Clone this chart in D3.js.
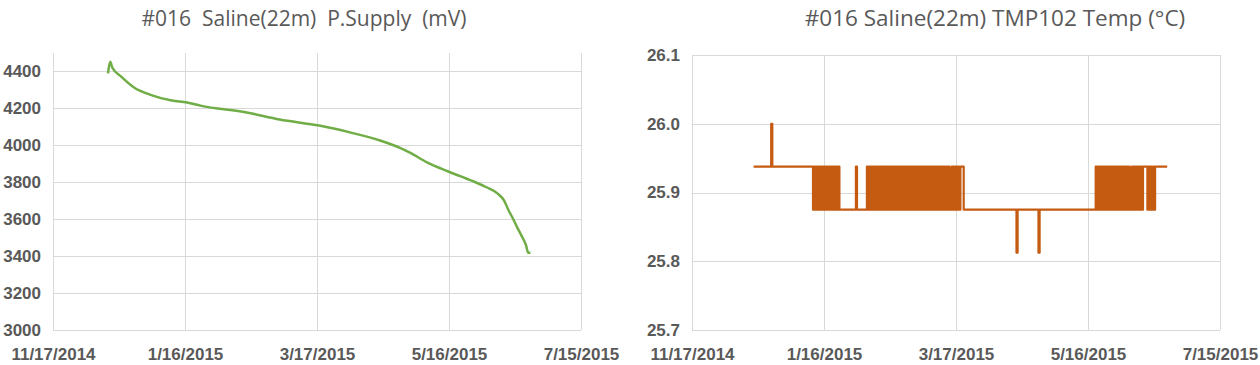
<!DOCTYPE html>
<html>
<head>
<meta charset="utf-8">
<script src="https://cdn.jsdelivr.net/npm/d3@7"></script>
<style>
  body { margin: 0; background: #fff; }
  svg { display: block; }
  .grid line, .grid path { stroke: #d9d9d9; stroke-width: 1; shape-rendering: crispEdges; }
  .tick text { fill: #595959; font-family: "Liberation Sans", Arial, sans-serif; font-weight: bold; font-size: 17px; }
  .title { fill: #595959; font-family: "Open Sans", "Liberation Sans", sans-serif; white-space: pre; }
</style>
</head>
<body>
<svg id="chart" width="1260" height="365"></svg>
<script>
// tick labels shared by both charts
const dateTicks = ["2014-11-17", "2015-01-16", "2015-03-17", "2015-05-16", "2015-07-15"];
const supplyTicks = [3000, 3200, 3400, 3600, 3800, 4000, 4200, 4400];
const tempTicks = [25.7, 25.8, 25.9, 26.0, 26.1];

// power supply (mV)
const supplyDates = ["2014-12-12", "2014-12-13", "2014-12-14", "2014-12-18", "2014-12-24", "2014-12-31",
  "2015-01-10", "2015-01-17", "2015-01-23", "2015-02-13", "2015-02-28", "2015-03-18", "2015-04-01",
  "2015-04-15", "2015-04-24", "2015-04-28", "2015-05-06", "2015-05-16", "2015-05-24", "2015-05-28",
  "2015-06-02", "2015-06-07", "2015-06-10", "2015-06-12", "2015-06-14", "2015-06-16", "2015-06-18",
  "2015-06-20", "2015-06-21", "2015-06-22"];
const supplyValues = [4390, 4452, 4420, 4372, 4312, 4275,
  4243, 4232, 4215, 4178, 4140, 4107, 4070,
  4025, 3985, 3962, 3908, 3857, 3819, 3800,
  3773, 3740, 3702, 3650, 3605, 3556, 3510,
  3460, 3418, 3418];

// TMP102 readings every 12 h from 2014-12-15, as runs of codes
const tempStart = "2014-12-15";
const tempLevels = { A: 26.0, H: 25.9375, L: 25.875, D: 25.8125 };
const tempRuns = [
  ["H", 16], ["A", 1], ["H", 37],
  ["LHLHLHLHLHLHLHLHLHLHLHLH", 1],
  ["L", 15], ["H", 1], ["L", 8],
  ["LHLHLHLHLHLHLHLHLHLHLHLHLHLHLHLHLHLHLHLHLHLHLHLHLHLHLHLHLHLHLHLHLHLHLHLHLHLH", 1],
  ["LLHL", 1], ["HLHLHL", 1], ["H", 3],
  ["L", 48], ["D", 1], ["L", 19], ["D", 1], ["L", 51],
  ["HLHLHLHLHLHLHLHLHLHLHLHLHLHLHLHL", 1],
  ["LHL", 1], ["HLHLHLHLH", 1], ["H", 3], ["LHLHLHLH", 1], ["H", 11]
];

const parse = d3.timeParse("%Y-%m-%d");
const fmt = d3.timeFormat("%-m/%-d/%Y");
const tickDates = dateTicks.map(parse);

const supply = supplyDates.map((d, i) => ({ date: parse(d), value: supplyValues[i] }));

const temp = [];
tempRuns.forEach(([code, count]) => {
  for (let k = 0; k < count; k++) {
    for (const c of code) temp.push(tempLevels[c]);
  }
});
const t0 = parse(tempStart);
const tempData = temp.map((v, i) => ({ date: d3.timeHour.offset(t0, i * 12), value: v }));

const svg = d3.select("#chart");

function drawPanel(opts) {
  const x = d3.scaleTime().domain([tickDates[0], tickDates[tickDates.length - 1]]).range([opts.left, opts.right]);
  const y = d3.scaleLinear().domain(opts.yDomain).range([opts.bottom, opts.top]);
  const g = svg.append("g");

  // vertical gridlines + date labels
  g.append("g")
    .attr("class", "grid")
    .attr("transform", `translate(0,${opts.bottom})`)
    .call(d3.axisBottom(x).tickValues(tickDates).tickFormat(fmt)
      .tickSizeInner(-(opts.bottom - opts.top)).tickSizeOuter(0).tickPadding(18))
    .call(a => a.select(".domain").remove());

  // horizontal gridlines + value labels
  g.append("g")
    .attr("class", "grid")
    .attr("transform", `translate(${opts.left},0)`)
    .call(d3.axisLeft(y).tickValues(opts.yTicks).tickFormat(opts.yFormat)
      .tickSizeInner(-(opts.right - opts.left)).tickSizeOuter(0).tickPadding(opts.yPad))
    .call(a => a.select(".domain").remove());

  g.append("path")
    .datum(opts.data)
    .attr("fill", "none")
    .attr("stroke", opts.color)
    .attr("stroke-width", opts.width)
    .attr("stroke-linejoin", "round")
    .attr("d", d3.line().curve(opts.curve).x(d => x(d.date)).y(d => y(d.value)));

  g.append("text")
    .attr("class", "title")
    .attr("x", opts.titleX)
    .attr("y", 26)
    .attr("text-anchor", "middle")
    .style("font-size", opts.titleSize + "px")
    .text(opts.title);
}

drawPanel({
  left: 53, right: 581, top: 53, bottom: 330,
  yDomain: [3000, 4500], yTicks: supplyTicks, yFormat: d3.format("d"), yPad: 12,
  data: supply, color: "#70ad47", width: 2.5, curve: d3.curveMonotoneX,
  title: "#016  Saline(22m)  P.Supply  (mV)", titleX: 304, titleSize: 21
});

drawPanel({
  left: 692, right: 1220, top: 55, bottom: 330,
  yDomain: [25.7, 26.1], yTicks: tempTicks, yFormat: d3.format(".1f"), yPad: 12,
  data: tempData, color: "#c55a11", width: 2.2, curve: d3.curveStepAfter,
  title: "#016 Saline(22m) TMP102 Temp (\u00b0C)", titleX: 995, titleSize: 22.5
});
</script>
</body>
</html>
